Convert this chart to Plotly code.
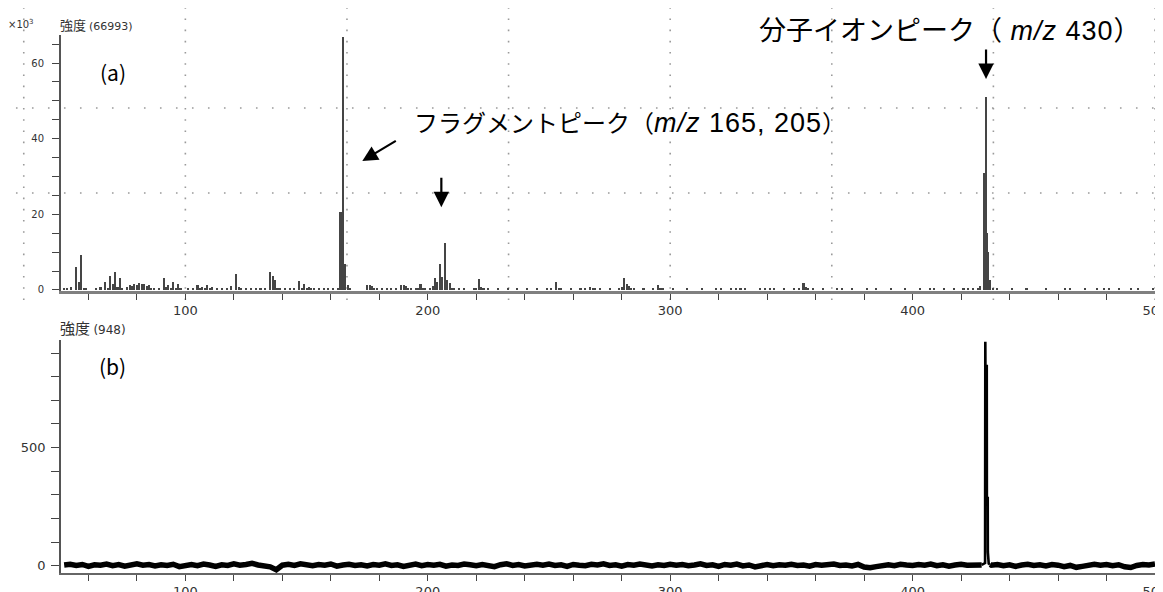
import plotly.graph_objects as go

# ---------------- data: (a) EI stick spectrum ----------------
mz_a = [50, 51, 53, 55, 56, 57, 58, 59, 63, 65,
        67, 68, 69, 70, 71, 72, 73, 74, 76, 77,
        78, 79, 80, 81, 82, 83, 84, 85, 86, 87,
        89, 91, 92, 93, 94, 95, 96, 97, 98, 101,
        103, 105, 106, 107, 108, 109, 110, 111, 113, 115,
        117, 119, 121, 122, 123, 125, 127, 129, 131, 133,
        135, 136, 137, 138, 139, 141, 143, 145, 147, 148,
        149, 150, 151, 152, 153, 155, 157, 159, 161, 163,
        164, 165, 166, 167, 168, 175, 176, 177, 178, 179,
        181, 183, 185, 187, 189, 190, 191, 192, 193, 195,
        196, 197, 198, 199, 201, 202, 203, 204, 205, 206,
        207, 208, 209, 210, 211, 213, 215, 219, 220, 221,
        222, 223, 225, 229, 233, 237, 241, 245, 249, 251,
        253, 254, 255, 259, 263, 265, 267, 268, 269, 271,
        275, 279, 280, 281, 282, 283, 284, 285, 289, 293,
        295, 296, 297, 301, 307, 313, 319, 321, 325, 327,
        329, 331, 337, 339, 341, 343, 347, 351, 353, 355,
        356, 357, 359, 363, 369, 371, 375, 381, 385, 391,
        397, 403, 407, 409, 413, 417, 421, 423, 425, 427,
        428, 429.6, 430.2, 430.8, 431.3, 431.8, 433, 435, 441, 447,
        455, 463, 465, 471, 476, 479, 481, 485, 490, 493,
        499]
int_a = [600, 400, 700, 6200, 2200, 9200, 600, 300, 300, 800,
         2200, 600, 3800, 1500, 4700, 800, 3100, 500, 900, 1300,
         1000, 1500, 1200, 1800, 1500, 1600, 1100, 1300, 500, 400,
         300, 3200, 800, 1300, 500, 2200, 600, 1500, 400, 300,
         500, 1300, 400, 900, 300, 1200, 400, 900, 400, 500,
         600, 1000, 4100, 900, 500, 400, 300, 400, 500, 600,
         4700, 3700, 2600, 500, 400, 400, 300, 400, 2400, 600,
         1500, 400, 900, 300, 500, 300, 400, 300, 400, 600,
         20600, 66993, 6800, 1200, 300, 1200, 1400, 1000, 400, 300,
         300, 300, 500, 400, 1200, 1200, 1000, 400, 500, 600,
         400, 1600, 500, 300, 600, 1100, 3100, 2100, 7000, 3500,
         12300, 2600, 1800, 600, 400, 300, 300, 400, 600, 2800,
         700, 400, 300, 300, 300, 300, 300, 400, 300, 400,
         2200, 500, 400, 300, 400, 500, 800, 400, 500, 400,
         300, 500, 800, 3300, 1500, 1000, 400, 300, 300, 500,
         1200, 500, 300, 300, 300, 300, 400, 300, 400, 500,
         400, 300, 400, 300, 500, 400, 300, 300, 400, 1900,
         800, 500, 300, 300, 300, 400, 300, 300, 400, 300,
         300, 400, 300, 400, 300, 300, 400, 500, 400, 600,
         1000, 31000, 51000, 15000, 10000, 2600, 600, 300, 300, 300,
         300, 500, 400, 300, 500, 400, 500, 300, 400, 300,
         300]

# ---------------- data: (b) profile trace ----------------
b_left_start, b_step = 50.0, 2.5
b_left = [4, 7, 2, 6, -2, 5, 3, 8, 1, 6,
          -1, 4, 9, 3, 6, 0, 5, 2, 7, -3,
          3, 6, 1, 8, 4, -2, 5, 2, 9, 3,
          6, 11, 4, 1, -4, -16, 3, 7, 2, 9,
          5, 1, 6, 3, 8, -1, 4, 7, 2, 5,
          0, 6, 3, 9, 2, 5, -2, 4, 8, 1,
          6, 3, 7, -1, 4, 2, 8, 5, 1, 6,
          3, -3, 5, 9, 2, 6, 0, 4, 7, 3,
          8, 2, 5, -2, 6, 3, 1, 7, 4, 9,
          2, 5, -1, 6, 3, 8, 4, 0, 5, 2,
          7, 3, 6, 1, 4, 9, 2, 5, -2, 6,
          3, 8, 0, 4, -4, 2, 6, 1, 5, 3,
          7, 2, 4, -1, 6, 3, 5, 8, 2, 4,
          0, 6, -5, -8, -3, 2, 5, 1, 7, 4,
          2, 6, 3, 8, 1, 5, -1, 4, 7, 3,
          5, 2]
b_peak_mz = [428.5, 429.2, 429.9, 430.0, 430.05, 430.6, 430.65, 431.0, 431.05, 431.4, 431.9]
b_peak_int = [4, 8, 12, 948, 845, 845, 287, 287, 59, 10, 6]
b_right_start = 432.5
b_right = [3, 6, 1, 5, -2, 4, 7, 2, 5, 0, 6, 3, -3, 2,
           -6, -2, 4, 7, 3, 6, 1, 5, -4, -7, 2, 6, 4, 8]

mz_left = [b_left_start + b_step * i for i in range(len(b_left))]
mz_right = [b_right_start + b_step * i for i in range(len(b_right))]

# axis settings
x_range = [48.7, 500]
xticks = list(range(60, 501, 20))
xtick_text = [str(v) if v % 100 == 0 else "" for v in xticks]
ya_range = [-264, 67400]
ya_ticks = list(range(0, 65001, 5000))
ya_text = [str(v // 1000) if v % 20000 == 0 else "" for v in ya_ticks]
yb_range = [-30, 955]
yb_ticks = list(range(0, 901, 100))
yb_text = [str(v) if v % 500 == 0 else "" for v in yb_ticks]
grid_x = [500 - k * 200 / 3 for k in range(8)]

dom_a = [0.5242, 1.0]
dom_b = [0.0, 0.4331]

fig = go.Figure()
fig.add_trace(go.Bar(x=mz_a, y=int_a, width=0.85, marker=dict(color="#454545", line=dict(width=0)),
                     xaxis="x", yaxis="y", showlegend=False))
noise_style = dict(color="black", width=5.5)
fig.add_trace(go.Scatter(x=mz_left + [b_peak_mz[0]], y=b_left + [b_peak_int[0]], mode="lines",
                         line=noise_style, xaxis="x2", yaxis="y2", showlegend=False))
fig.add_trace(go.Scatter(x=[mz_right[0] - b_step * 0.2] + mz_right, y=[b_peak_int[-1]] + b_right,
                         mode="lines", line=noise_style, xaxis="x2", yaxis="y2", showlegend=False))
fig.add_trace(go.Scatter(x=b_peak_mz, y=b_peak_int, mode="lines", line=dict(color="black", width=2.6),
                         xaxis="x2", yaxis="y2", showlegend=False))

tickfont = dict(family="DejaVu Sans", size=13, color="#333")
common_x = dict(range=x_range, tickmode="array", tickvals=xticks, ticktext=xtick_text,
                ticks="outside", ticklen=6, tickwidth=1.3, tickcolor="#444",
                showgrid=False, zeroline=False, showline=True, tickfont=tickfont,
                automargin=False, ticklabeloverflow="allow")

shapes = []
def xp(v):
    return (v - x_range[0]) / (x_range[1] - x_range[0])

for g in grid_x:
    shapes.append(dict(type="line", xref="paper", yref="paper", x0=xp(g), x1=xp(g),
                       y0=0.5074, y1=1.05, line=dict(color="#9a9a9a", width=1.6, dash="1.6px,9.6px"),
                       layer="below"))
for yrow in [0.8643, 0.7063]:
    shapes.append(dict(type="line", xref="paper", yref="paper", x0=-0.0558, x1=1.0073,
                       y0=yrow, y1=yrow, line=dict(color="#9a9a9a", width=1.6, dash="1.6px,14.4px"),
                       layer="below"))

jp = "Noto Sans CJK JP"
lat = "font-family:Liberation Sans;font-size:27px;letter-spacing:1px"
nb = "\u00a0"
annotations = [
    dict(text="(a)", x=0.0475, y=0.931, xref="paper", yref="paper", showarrow=False,
         font=dict(family=jp, size=21, color="black"), xanchor="center", yanchor="middle"),
    dict(text="(b)", x=0.0475, y=0.3848, xref="paper", yref="paper", showarrow=False,
         font=dict(family=jp, size=21, color="black"), xanchor="center", yanchor="middle"),
    dict(text="フラグメントピーク（<span style='%s'><i>m/z</i> 165, 205</span>）" % lat,
         x=0.3206, y=0.8383, xref="paper", yref="paper",
         showarrow=False, font=dict(family=jp, size=24, color="black"), xanchor="left", yanchor="middle"),
    dict(text="分子イオンピーク（<span style='%s'>%s<i>m/z</i> 430</span>）" % (lat, nb),
         x=0.6360, y=1.013, xref="paper", yref="paper",
         showarrow=False, font=dict(family=jp, size=27, color="black"), xanchor="left", yanchor="middle"),
    dict(text="×10<sup>3</sup>", x=-0.0503, y=1.0204, xref="paper", yref="paper", showarrow=False,
         font=dict(family="DejaVu Sans", size=10, color="#333"), xanchor="left", yanchor="middle"),
    dict(text="強度 <span style='font-family:DejaVu Sans;font-size:11px'>(66993)</span>",
         x=-0.0027, y=1.0186, xref="paper", yref="paper", showarrow=False,
         font=dict(family=jp, size=13, color="#333"), xanchor="left", yanchor="middle"),
    dict(text="強度 <span style='font-family:DejaVu Sans;font-size:12px'>(948)</span>",
         x=-0.0027, y=0.4572, xref="paper", yref="paper", showarrow=False,
         font=dict(family=jp, size=15, color="#333"), xanchor="left", yanchor="middle"),
    # arrows
    dict(text="", x=173.0, y=34100, xref="x", yref="y", ax=35, ay=-21, showarrow=True,
         arrowhead=2, arrowsize=1.4, arrowwidth=2.2, arrowcolor="black"),
    dict(text="", x=205.6, y=21900, xref="x", yref="y", ax=0, ay=-31, showarrow=True,
         arrowhead=2, arrowsize=1.4, arrowwidth=2.2, arrowcolor="black"),
    dict(text="", x=430.3, y=55800, xref="x", yref="y", ax=0, ay=-31, showarrow=True,
         arrowhead=2, arrowsize=1.4, arrowwidth=2.2, arrowcolor="black"),
]

fig.update_layout(
    width=1155, height=584,
    margin=dict(l=53, r=8, t=27, b=19, autoexpand=False),
    paper_bgcolor="white", plot_bgcolor="white",
    font=dict(family="DejaVu Sans", color="#333"),
    showlegend=False,
    xaxis=dict(anchor="y", domain=[0, 1], linecolor="#808080", linewidth=2.5, **common_x),
    yaxis=dict(anchor="x", domain=dom_a, range=ya_range, tickmode="array", tickvals=ya_ticks,
               ticktext=ya_text, ticks="outside", ticklen=7, tickwidth=1.3, tickcolor="#444",
               showline=True, linecolor="#555", linewidth=2, showgrid=False, zeroline=False,
               automargin=False, ticklabelstandoff=6,
               tickfont=dict(family="DejaVu Sans", size=10, color="#333")),
    xaxis2=dict(anchor="y2", domain=[0, 1], linecolor="#666", linewidth=1.5, **common_x),
    yaxis2=dict(anchor="x2", domain=dom_b, range=yb_range, tickmode="array", tickvals=yb_ticks,
                ticktext=yb_text, ticks="outside", ticklen=8, tickwidth=1.3, tickcolor="#444",
                showline=True, linecolor="#555", linewidth=1.5, showgrid=False, zeroline=False,
                automargin=False, ticklabelstandoff=3, tickfont=tickfont),
    shapes=shapes,
    annotations=annotations,
    bargap=0,
)

fig.write_html("out.html")
